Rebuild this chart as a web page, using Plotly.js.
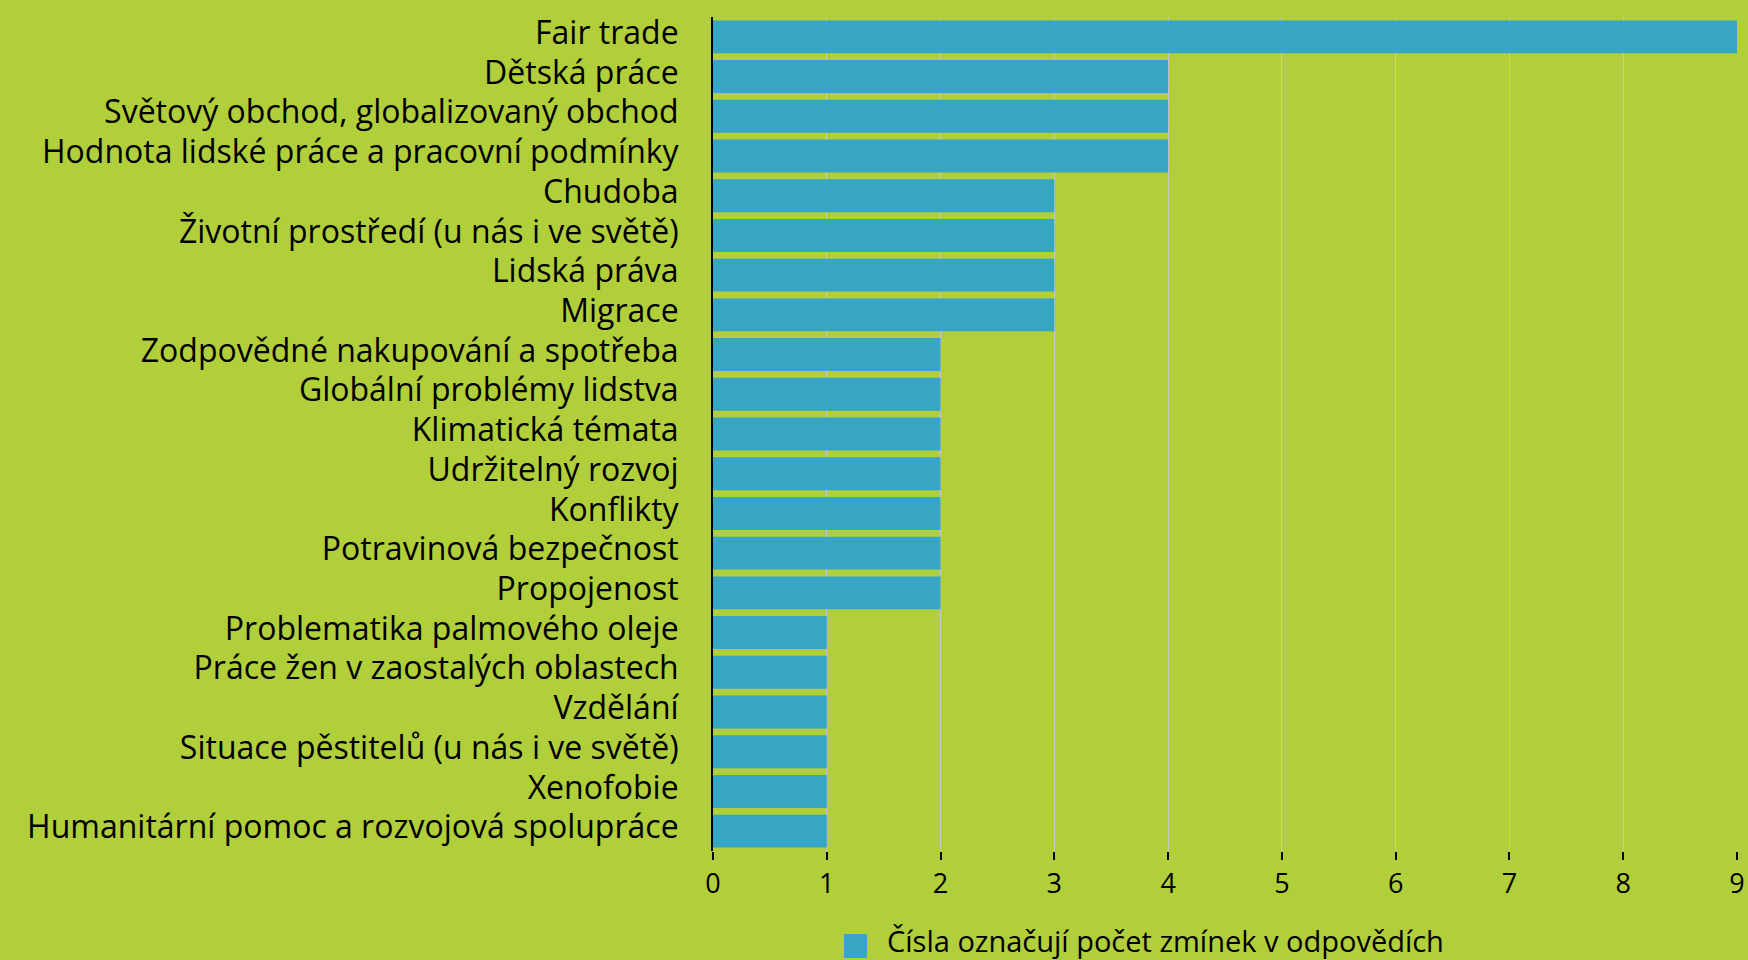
<!DOCTYPE html>
<html>
<head>
<meta charset="utf-8">
<script src="https://cdn.plot.ly/plotly-3.0.1.min.js"></script>
<style>html,body{margin:0;padding:0;background:#B1CF3A;}#chart{width:1748px;height:960px;}</style>
</head>
<body>
<div id="chart"></div>
<script>
const categories = [
  "Fair trade",
  "Dětská práce",
  "Světový obchod, globalizovaný obchod",
  "Hodnota lidské práce a pracovní podmínky",
  "Chudoba",
  "Životní prostředí (u nás i ve světě)",
  "Lidská práva",
  "Migrace",
  "Zodpovědné nakupování a spotřeba",
  "Globální problémy lidstva",
  "Klimatická témata",
  "Udržitelný rozvoj",
  "Konflikty",
  "Potravinová bezpečnost",
  "Propojenost",
  "Problematika palmového oleje",
  "Práce žen v zaostalých oblastech",
  "Vzdělání",
  "Situace pěstitelů (u nás i ve světě)",
  "Xenofobie",
  "Humanitární pomoc a rozvojová spolupráce"
];
const mentions = [9, 4, 4, 4, 3, 3, 3, 3, 2, 2, 2, 2, 2, 2, 2, 1, 1, 1, 1, 1, 1];
const xTicks = [0, 1, 2, 3, 4, 5, 6, 7, 8, 9];
const legendText = "Čísla označují počet zmínek v odpovědích";

const FONT = "'Open Sans', sans-serif";
const BAR = "#37A5C4";
const BG = "#B1CF3A";

const M = {l: 713, r: 11, t: 17, b: 109};
const plotW = 1748 - M.l - M.r;
const plotH = 960 - M.t - M.b;
const plotBottom = 960 - M.b;
const px = (x) => (x - M.l) / plotW;
const py = (y) => (plotBottom - y) / plotH;

const trace = {
  type: "bar",
  orientation: "h",
  x: mentions,
  y: categories,
  marker: {color: BAR},
  showlegend: false,
  hoverinfo: "x+y"
};

const layout = {
  width: 1748,
  height: 960,
  paper_bgcolor: BG,
  plot_bgcolor: BG,
  font: {family: FONT, color: "#000000", size: 29},
  margin: M,
  bargap: 0.17,
  showlegend: false,
  xaxis: {
    range: [0, 9],
    tickvals: xTicks,
    ticktext: xTicks.map(String),
    showgrid: true,
    gridcolor: "#C8C8C8",
    gridwidth: 1,
    zeroline: false,
    showline: false,
    ticks: "outside",
    ticklen: 8,
    tickwidth: 2,
    tickcolor: "#000000",
    ticklabelstandoff: 1,
    tickfont: {family: FONT, size: 27, color: "#000000"},
    fixedrange: true
  },
  yaxis: {
    autorange: "reversed",
    showgrid: false,
    zeroline: false,
    showline: true,
    linecolor: "#000000",
    linewidth: 2,
    ticks: "",
    ticklabelstandoff: 26,
    ticklabelshift: 4,
    tickfont: {family: FONT, size: 32, color: "#000000"},
    fixedrange: true
  },
  shapes: [
    {type: "rect", xref: "paper", yref: "paper",
     x0: px(844), x1: px(867),
     y0: py(958), y1: py(934),
     fillcolor: BAR, line: {width: 0}}
  ],
  annotations: [
    {xref: "paper", yref: "paper",
     x: px(885), y: py(940),
     xanchor: "left", yanchor: "middle", showarrow: false,
     text: legendText,
     font: {family: FONT, size: 29, color: "#000000"}}
  ]
};

Plotly.newPlot("chart", [trace], layout, {displayModeBar: false, staticPlot: true});
</script>
</body>
</html>
